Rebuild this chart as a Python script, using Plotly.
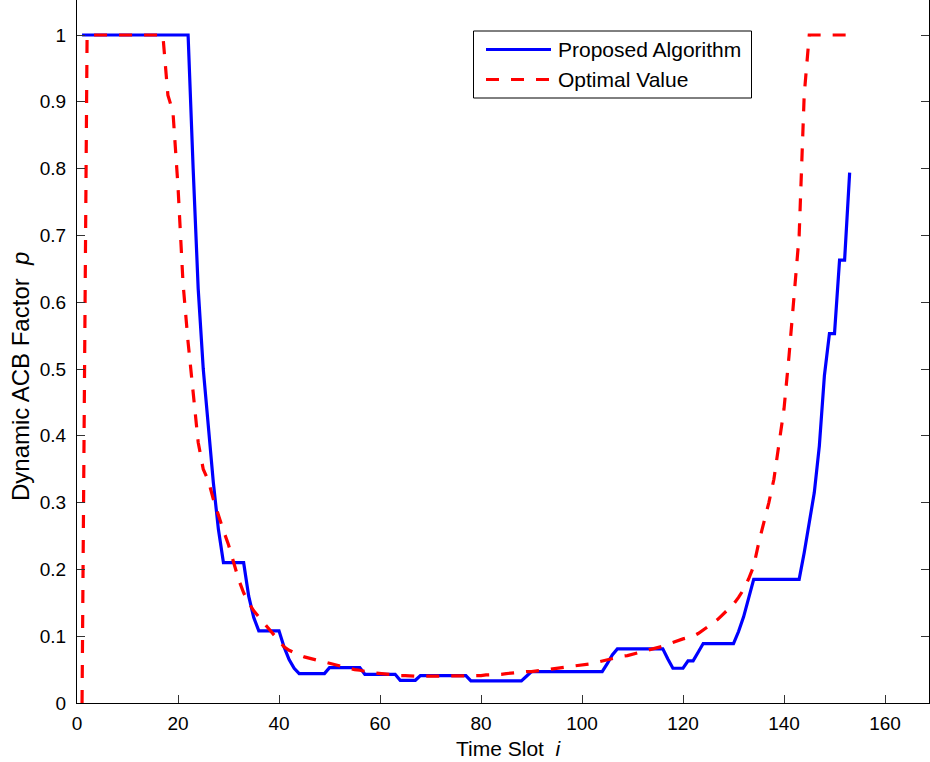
import plotly.graph_objects as go

# ---------------- data ----------------
time_slot = list(range(1, 154))

proposed = [
    1.0, 1.0, 1.0, 1.0, 1.0, 1.0, 1.0, 1.0, 1.0, 1.0,
    1.0, 1.0, 1.0, 1.0, 1.0, 1.0, 1.0, 1.0, 1.0, 1.0,
    1.0, 1.0, 0.80, 0.62, 0.50, 0.41, 0.33, 0.26, 0.21, 0.21,
    0.21, 0.21, 0.21, 0.16, 0.128, 0.108, 0.108, 0.108, 0.108, 0.108,
    0.084, 0.065, 0.052, 0.044, 0.044, 0.044, 0.044, 0.044, 0.044, 0.053,
    0.053, 0.053, 0.053, 0.053, 0.053, 0.053, 0.043, 0.043, 0.043, 0.043,
    0.043, 0.043, 0.043, 0.034, 0.034, 0.034, 0.034, 0.041, 0.041, 0.041,
    0.041, 0.041, 0.041, 0.041, 0.041, 0.041, 0.041, 0.033, 0.033, 0.033,
    0.033, 0.033, 0.033, 0.033, 0.033, 0.033, 0.033, 0.033, 0.040, 0.047,
    0.047, 0.047, 0.047, 0.047, 0.047, 0.047, 0.047, 0.047, 0.047, 0.047,
    0.047, 0.047, 0.047, 0.047, 0.059, 0.072, 0.081, 0.081, 0.081, 0.081,
    0.081, 0.081, 0.081, 0.081, 0.081, 0.081, 0.066, 0.052, 0.052, 0.052,
    0.063, 0.063, 0.076, 0.089, 0.089, 0.089, 0.089, 0.089, 0.089, 0.089,
    0.107, 0.129, 0.157, 0.185, 0.185, 0.185, 0.185, 0.185, 0.185, 0.185,
    0.185, 0.185, 0.185, 0.225, 0.27, 0.315, 0.385, 0.49, 0.553, 0.553,
    0.663, 0.663, 0.794,
]

optimal = [
    0.0, 1.0, 1.0, 1.0, 1.0, 1.0, 1.0, 1.0, 1.0, 1.0,
    1.0, 1.0, 1.0, 1.0, 1.0, 1.0, 1.0, 0.91, 0.885, 0.773,
    0.628, 0.54, 0.46, 0.39, 0.35, 0.333, 0.305, 0.28, 0.258, 0.237,
    0.21, 0.185, 0.165, 0.15, 0.138, 0.129, 0.12, 0.111, 0.101, 0.092,
    0.084, 0.079, 0.075, 0.072, 0.069, 0.067, 0.065, 0.063, 0.061, 0.059,
    0.057, 0.055, 0.053, 0.052, 0.050, 0.049, 0.047, 0.046, 0.045, 0.044,
    0.043, 0.043, 0.042, 0.041, 0.041, 0.040, 0.040, 0.040, 0.040, 0.040,
    0.040, 0.040, 0.040, 0.040, 0.040, 0.040, 0.040, 0.040, 0.041, 0.041,
    0.042, 0.042, 0.043, 0.043, 0.044, 0.045, 0.045, 0.046, 0.047, 0.047,
    0.048, 0.049, 0.050, 0.051, 0.052, 0.053, 0.053, 0.054, 0.055, 0.056,
    0.057, 0.059, 0.061, 0.063, 0.065, 0.067, 0.068, 0.070, 0.071, 0.073,
    0.074, 0.076, 0.078, 0.080, 0.082, 0.085, 0.088, 0.091, 0.093, 0.096,
    0.098, 0.100, 0.104, 0.109, 0.114, 0.120, 0.126, 0.133, 0.140, 0.148,
    0.158, 0.170, 0.186, 0.205, 0.24, 0.27, 0.30, 0.335, 0.385, 0.44,
    0.52, 0.61, 0.70, 0.91, 1.0, 1.0, 1.0, 1.0, 1.0, 1.0,
    1.0, 1.0, 1.0,
]

x_ticks = [0, 20, 40, 60, 80, 100, 120, 140, 160]
y_ticks = [0, 0.1, 0.2, 0.3, 0.4, 0.5, 0.6, 0.7, 0.8, 0.9, 1]
y_tick_labels = ["0", "0.1", "0.2", "0.3", "0.4", "0.5", "0.6", "0.7", "0.8", "0.9", "1"]

series_names = ["Proposed Algorithm", "Optimal Value"]
x_title = "Time Slot  <i>i</i>"
y_title = "Dynamic ACB Factor  <i>p</i>"

# ---------------- layout geometry (pixels) ----------------
W, H = 930, 762
ML, MR, MT, MB = 77, 1, 0, 59
PW, PH = W - ML - MR, H - MT - MB
PX_PER_UNIT = 5.05
PX_PER_P = 668.0

FONT = "Liberation Sans, Arial, Helvetica, sans-serif"
BLUE = "#0000FF"
RED = "#FF0000"
DASH = "13px,12px"


def px_x(p):
    return (p - ML) / PW


def px_y(p):
    return (MT + PH - p) / PH


fig = go.Figure()
fig.add_trace(go.Scatter(x=time_slot, y=proposed, mode="lines", name=series_names[0],
                         line=dict(color=BLUE, width=3.2), showlegend=False))
fig.add_trace(go.Scatter(x=time_slot, y=optimal, mode="lines", name=series_names[1],
                         line=dict(color=RED, width=3.2, dash=DASH), showlegend=False))

# manual MATLAB-style legend
shapes = [
    dict(type="rect", xref="paper", yref="paper",
         x0=px_x(473.5), x1=px_x(751.5), y0=px_y(98), y1=px_y(31),
         line=dict(color="black", width=1), fillcolor="white", layer="above"),
    dict(type="line", xref="paper", yref="paper",
         x0=px_x(486), x1=px_x(551), y0=px_y(49.5), y1=px_y(49.5),
         line=dict(color=BLUE, width=3.2), layer="above"),
    dict(type="line", xref="paper", yref="paper",
         x0=px_x(486), x1=px_x(551), y0=px_y(79.5), y1=px_y(79.5),
         line=dict(color=RED, width=3.2, dash=DASH), layer="above"),
]
annotations = [
    dict(text=series_names[0], xref="paper", yref="paper", x=px_x(556), y=px_y(49.5),
         xanchor="left", yanchor="middle", showarrow=False, font=dict(family=FONT, size=21, color="black")),
    dict(text=series_names[1], xref="paper", yref="paper", x=px_x(556), y=px_y(79.5),
         xanchor="left", yanchor="middle", showarrow=False, font=dict(family=FONT, size=21, color="black")),
    dict(text=x_title, xref="paper", yref="paper", x=px_x(509), y=px_y(748),
         xanchor="center", yanchor="middle", showarrow=False, font=dict(family=FONT, size=21, color="black")),
    dict(text=y_title, xref="paper", yref="paper", x=px_x(21), y=px_y(377),
         xanchor="center", yanchor="middle", showarrow=False, textangle=-90,
         font=dict(family=FONT, size=24, color="black")),
]

fig.update_layout(
    width=W, height=H,
    margin=dict(l=ML, r=MR, t=MT, b=MB, pad=0),
    paper_bgcolor="white", plot_bgcolor="white",
    font=dict(family=FONT, size=19, color="black"),
    shapes=shapes, annotations=annotations,
    showlegend=False,
)
fig.update_xaxes(
    range=[0, PW / PX_PER_UNIT], tickmode="array", tickvals=x_ticks,
    ticks="inside", ticklen=8, tickwidth=1, tickcolor="#333",
    showline=True, linecolor="black", linewidth=1, mirror=False,
    showgrid=False, zeroline=False, ticklabelstandoff=3,
    tickfont=dict(family=FONT, size=19, color="black"),
)
fig.update_yaxes(
    range=[0, PH / PX_PER_P], tickmode="array", tickvals=y_ticks, ticktext=y_tick_labels,
    ticks="inside", ticklen=8, tickwidth=1, tickcolor="#333",
    showline=True, linecolor="black", linewidth=1, mirror="ticks",
    showgrid=False, zeroline=False, ticklabelstandoff=6,
    tickfont=dict(family=FONT, size=19, color="black"),
)

fig.write_html("out.html")
